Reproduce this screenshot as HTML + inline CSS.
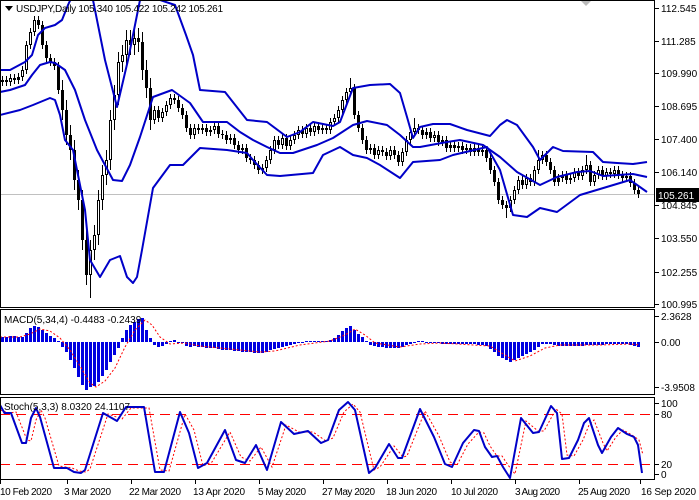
<!DOCTYPE html>
<html><head><meta charset="utf-8"><style>
html,body{margin:0;padding:0;background:#fff;}
svg{display:block;font-family:"Liberation Sans",sans-serif;font-size:10px;}
</style></head><body>
<svg width="699" height="500" xmlns="http://www.w3.org/2000/svg">
<defs>
<clipPath id="cm"><rect x="1" y="1" width="653" height="306"/></clipPath>
<clipPath id="cd"><rect x="1" y="310" width="653" height="84"/></clipPath>
<clipPath id="cs"><rect x="1" y="398" width="653" height="81"/></clipPath>
</defs>
<rect x="0" y="0" width="699" height="500" fill="#fff"/>
<g clip-path="url(#cm)">
<line x1="0" y1="194.5" x2="654" y2="194.5" stroke="#c0c0c0"/>
<path fill="none" stroke="#000" stroke-width="1" d="M2.5 76V86M6.5 76V86M10.5 74V86M14.5 74V84M18.5 73V84M22.5 66V81M26.5 41V74M30.5 28V49M34.5 16V36M38.5 16V29M42.5 21V49M46.5 41V62M50.5 54V66M54.5 58V70M58.5 62V94M62.5 80V120M66.5 100V145M70.5 125V160M74.5 140V190M78.5 170V210M82.5 190V250M86.5 230V285M90.5 240V298M94.5 225V260M98.5 190V245M102.5 165V210M106.5 150V185M110.5 110V170M114.5 85V130M118.5 52V105M122.5 45V72M126.5 30V65M130.5 30V55M134.5 28V55M138.5 28V52M142.5 32V80M146.5 60V98M150.5 78V130M154.5 106V124M158.5 106V122M162.5 108V122M166.5 101V116M170.5 94V109M174.5 94V104M178.5 96V112M182.5 104V119M186.5 111V132M190.5 124V139M194.5 124V139M198.5 124V134M202.5 124V134M206.5 124V136M210.5 126V136M214.5 122V134M218.5 122V138M222.5 130V139M226.5 131V144M230.5 134V144M234.5 134V149M238.5 141V154M242.5 144V154M246.5 144V162M250.5 154V164M254.5 156V169M258.5 161V174M262.5 164V174M266.5 156V172M270.5 146V164M274.5 136V154M278.5 136V149M282.5 134V149M286.5 134V150M290.5 136V150M294.5 131V144M298.5 126V139M302.5 126V138M306.5 124V138M310.5 124V136M314.5 122V136M318.5 122V134M322.5 124V134M326.5 124V134M330.5 118V134M334.5 114V126M338.5 106V122M342.5 96V114M346.5 88V104M350.5 78V96M354.5 84V119M358.5 111V132M362.5 124V144M366.5 136V154M370.5 144V154M374.5 144V159M378.5 146V159M382.5 146V156M386.5 148V160M390.5 146V160M394.5 146V159M398.5 151V166M402.5 148V166M406.5 136V156M410.5 128V144M414.5 118V136M418.5 124V134M422.5 126V139M426.5 128V139M430.5 128V142M434.5 131V142M438.5 131V146M442.5 136V146M446.5 136V152M450.5 141V152M454.5 141V152M458.5 142V152M462.5 142V154M466.5 144V154M470.5 144V156M474.5 144V156M478.5 144V156M482.5 146V156M486.5 146V162M490.5 154V174M494.5 166V186M498.5 178V204M502.5 196V209M506.5 201V218M510.5 196V212M514.5 186V204M518.5 176V194M522.5 176V189M526.5 174V189M530.5 174V186M534.5 166V186M538.5 150V174M542.5 151V164M546.5 151V166M550.5 158V174M554.5 166V186M558.5 174V186M562.5 171V182M566.5 171V184M570.5 174V184M574.5 168V182M578.5 168V180M582.5 166V180M586.5 155V174M590.5 161V186M594.5 171V186M598.5 166V179M602.5 166V180M606.5 168V180M610.5 168V178M614.5 166V178M618.5 166V179M622.5 171V182M626.5 172V182M630.5 172V187M634.5 179V194M638.5 186V198"/>
<path fill="none" stroke="#000" stroke-width="3" d="M2.5 82V80M6.5 80V82M10.5 82V78M14.5 78V80M18.5 80V77M22.5 77V70M26.5 70V45M30.5 45V32M34.5 32V20M38.5 20V25M42.5 25V45M46.5 45V58M50.5 58V62M54.5 62V66M58.5 66V90M62.5 90V110M66.5 110V135M70.5 135V150M74.5 150V180M78.5 180V200M82.5 200V240M86.5 240V275M90.5 275V250M94.5 250V235M98.5 235V200M102.5 200V175M106.5 175V160M110.5 160V120M114.5 120V95M118.5 95V62M122.5 62V55M126.5 55V40M130.5 40V45M134.5 45V38M138.5 38V42M142.5 42V70M146.5 70V88M150.5 88V120M154.5 120V110M158.5 110V118M162.5 118V112M166.5 112V105M170.5 105V98M174.5 98V100M178.5 100V108M182.5 108V115M186.5 115V128M190.5 128V135M194.5 135V128M198.5 128V130M202.5 130V128M206.5 128V132M210.5 132V130M214.5 130V126M218.5 126V134M222.5 134V135M226.5 135V140M230.5 140V138M234.5 138V145M238.5 145V150M242.5 150V148M246.5 148V158M250.5 158V160M254.5 160V165M258.5 165V170M262.5 170V168M266.5 168V160M270.5 160V150M274.5 150V140M278.5 140V145M282.5 145V138M286.5 138V146M290.5 146V140M294.5 140V135M298.5 135V130M302.5 130V134M306.5 134V128M310.5 128V132M314.5 132V126M318.5 126V130M322.5 130V128M326.5 128V130M330.5 130V122M334.5 122V118M338.5 118V110M342.5 110V100M346.5 100V92M350.5 92V88M354.5 88V115M358.5 115V128M362.5 128V140M366.5 140V150M370.5 150V148M374.5 148V155M378.5 155V150M382.5 150V152M386.5 152V156M390.5 156V150M394.5 150V155M398.5 155V162M402.5 162V152M406.5 152V140M410.5 140V132M414.5 132V128M418.5 128V130M422.5 130V135M426.5 135V132M430.5 132V138M434.5 138V135M438.5 135V142M442.5 142V140M446.5 140V148M450.5 148V145M454.5 145V148M458.5 148V146M462.5 146V150M466.5 150V148M470.5 148V152M474.5 152V148M478.5 148V152M482.5 152V150M486.5 150V158M490.5 158V170M494.5 170V182M498.5 182V200M502.5 200V205M506.5 205V208M510.5 208V200M514.5 200V190M518.5 190V180M522.5 180V185M526.5 185V178M530.5 178V182M534.5 182V170M538.5 170V160M542.5 160V155M546.5 155V162M550.5 162V170M554.5 170V182M558.5 182V178M562.5 178V175M566.5 175V180M570.5 180V178M574.5 178V172M578.5 172V176M582.5 176V170M586.5 170V165M590.5 165V182M594.5 182V175M598.5 175V170M602.5 170V176M606.5 176V172M610.5 172V174M614.5 174V170M618.5 170V175M622.5 175V178M626.5 178V176M630.5 176V183M634.5 183V190M638.5 190V194"/>
<path fill="none" stroke="#fff" stroke-width="1" d="M10.5 79V81M22.5 71V76M26.5 46V69M30.5 33V44M34.5 21V31M90.5 251V274M94.5 236V249M98.5 201V234M102.5 176V199M106.5 161V174M110.5 121V159M114.5 96V119M118.5 63V94M122.5 56V61M126.5 41V54M134.5 39V44M154.5 111V119M162.5 113V117M166.5 106V111M170.5 99V104M194.5 129V134M214.5 127V129M266.5 161V167M270.5 151V159M274.5 141V149M282.5 139V144M290.5 141V145M294.5 136V139M298.5 131V134M306.5 129V133M314.5 127V131M330.5 123V129M334.5 119V121M338.5 111V117M342.5 101V109M346.5 93V99M350.5 89V91M378.5 151V154M390.5 151V155M402.5 153V161M406.5 141V151M410.5 133V139M414.5 129V131M434.5 136V137M510.5 201V207M514.5 191V199M518.5 181V189M526.5 179V184M534.5 171V181M538.5 161V169M542.5 156V159M574.5 173V177M582.5 171V175M586.5 166V169M594.5 176V181M598.5 171V174M606.5 173V175M614.5 171V173"/>
<g fill="none" stroke="#0000c8" stroke-width="2" stroke-linejoin="round">
<polyline points="0,70 10,70 25,62 32,55 38,35 45,28 55,25 62,20 68,5 75,-10 88,-10 93,0 105,60 117,107 128,60 140,0 160,0 175,5 186,35 193,55 200,90 225,92 247,120 267,122 287,137 300,132 313,122 333,126 340,122 353,88 370,85 390,84 400,93 407,117 413,138 420,127 433,124 450,124 467,130 490,136 500,125 507,120 517,125 533,147 540,160 553,147 563,151 593,152 603,162 617,163 633,164 647,162"/>
<polyline points="0,92 10,90 25,85 32,75 40,65 50,62 55,63 65,70 75,90 85,120 97,150 113,180 122,181 130,165 140,137 153,97 172,90 190,103 203,122 227,122 240,132 253,140 267,147 280,153 293,153 317,145 333,138 353,125 367,121 387,125 400,135 413,147 420,147 447,142 460,140 483,145 500,157 517,172 540,185 557,177 577,172 590,171 603,176 633,174 647,177"/>
<polyline points="0,115 20,110 33,105 50,98 55,100 60,115 65,140 73,150 85,210 90,260 100,277 110,260 120,256 127,277 133,283 137,277 142,250 153,188 170,165 183,165 200,148 227,150 247,153 253,160 267,175 280,176 313,173 323,155 340,147 353,155 367,158 380,165 400,178 413,162 440,160 453,155 487,147 500,170 513,215 527,217 540,208 557,212 580,195 600,189 630,180 647,192"/>
</g>
</g>
<g clip-path="url(#cd)">
<path fill="none" stroke="#0000e0" stroke-width="3" d="M2.5 342V337M6.5 342V337M10.5 342V336M14.5 342V336M18.5 342V337M22.5 342V337M26.5 342V333M30.5 342V328M34.5 342V326M38.5 342V327M42.5 342V330M46.5 342V333M50.5 342V336M54.5 342V338M58.5 342V341M62.5 342V347M66.5 342V352M70.5 342V360M74.5 342V368M78.5 342V377M82.5 342V385M86.5 342V390M90.5 342V387M94.5 342V386M98.5 342V382M102.5 342V376M106.5 342V370M110.5 342V362M114.5 342V355M118.5 342V348M122.5 342V338M126.5 342V330M130.5 342V325M134.5 342V322M138.5 342V319M142.5 342V318M146.5 342V330M150.5 342V338M154.5 342V345M158.5 342V347M162.5 342V346M166.5 342V344M170.5 342V341M174.5 342V340M178.5 342V343M182.5 342V343M186.5 342V346M190.5 342V347M194.5 342V346M198.5 342V347M202.5 342V347M206.5 342V348M210.5 342V348M214.5 342V348M218.5 342V349M222.5 342V350M226.5 342V350M230.5 342V350M234.5 342V351M238.5 342V351M242.5 342V352M246.5 342V352M250.5 342V352M254.5 342V353M258.5 342V353M262.5 342V353M266.5 342V352M270.5 342V350M274.5 342V349M278.5 342V348M282.5 342V347M286.5 342V346M290.5 342V345M294.5 342V344M298.5 342V343M302.5 342V343M306.5 342V341M310.5 342V341M314.5 342V341M318.5 342V341M322.5 342V341M326.5 342V341M330.5 342V340M334.5 342V338M338.5 342V335M342.5 342V331M346.5 342V328M350.5 342V326M354.5 342V330M358.5 342V334M362.5 342V337M366.5 342V341M370.5 342V345M374.5 342V346M378.5 342V347M382.5 342V347M386.5 342V348M390.5 342V348M394.5 342V348M398.5 342V348M402.5 342V347M406.5 342V345M410.5 342V344M414.5 342V343M418.5 342V341M422.5 342V341M426.5 342V343M430.5 342V343M434.5 342V343M438.5 342V343M442.5 342V344M446.5 342V344M450.5 342V344M454.5 342V344M458.5 342V344M462.5 342V344M466.5 342V344M470.5 342V344M474.5 342V344M478.5 342V345M482.5 342V345M486.5 342V346M490.5 342V349M494.5 342V352M498.5 342V356M502.5 342V358M506.5 342V360M510.5 342V362M514.5 342V360M518.5 342V358M522.5 342V356M526.5 342V354M530.5 342V352M534.5 342V350M538.5 342V347M542.5 342V344M546.5 342V344M550.5 342V344M554.5 342V345M558.5 342V346M562.5 342V346M566.5 342V346M570.5 342V346M574.5 342V346M578.5 342V346M582.5 342V346M586.5 342V345M590.5 342V345M594.5 342V345M598.5 342V345M602.5 342V345M606.5 342V344M610.5 342V344M614.5 342V344M618.5 342V344M622.5 342V344M626.5 342V344M630.5 342V345M634.5 342V346M638.5 342V347"/>
<polyline fill="none" stroke="#f00" stroke-width="1" stroke-dasharray="2,2" points="0,337 20,337 30,334 40,329 50,331 60,338 70,350 80,366 90,383 96,387 105,381 115,368 125,347 135,330 145,320 152,325 160,337 170,344 185,343 200,346 230,349 260,352 275,351 300,345 330,341 345,335 355,329 365,335 375,343 400,347 420,344 440,343 490,346 505,355 515,361 530,356 545,348 560,345 600,345 630,344 640,345"/>
</g>
<g clip-path="url(#cs)">
<line x1="0" y1="414.5" x2="654" y2="414.5" stroke="#f00" stroke-dasharray="10,6"/>
<line x1="0" y1="464.5" x2="654" y2="464.5" stroke="#f00" stroke-dasharray="10,6"/>
<polyline fill="none" stroke="#f00" stroke-width="1" stroke-dasharray="2,2" points="0,410 9,413 16,412 27,440 31,441 36,420 41,410 45,418 59,466 72,468 79,471 86,472 90,469 108,414 122,419 131,408 149,408 160,470 169,471 185,414 194,430 203,466 212,462 230,432 241,457 250,461 261,447 272,467 286,425 299,432 313,432 326,441 333,438 344,412 353,404 360,412 374,470 380,467 394,446 403,457 407,456 425,411 439,436 450,462 457,465 468,444 479,432 484,433 490,446 497,456 502,456 508,465 515,474 526,421 538,431 544,431 556,409 562,414 567,455 574,456 583,440 589,425 594,420 603,443 607,451 616,437 623,430 632,435 639,440 643,455"/>
<polyline fill="none" stroke="#0000c8" stroke-width="2" stroke-linejoin="round" points="0,405 4.5,413 11,413 22,443 26,443 31,418 36,408 40,417 54,468 67,468 74,472 81,473 85,470 103,413 117,421 126,407 144,407 155,472 164,472 180,412 189,433 198,468 207,463 225,430 236,460 245,463 256,445 267,470 281,422 294,434 308,431 321,443 328,440 339,410 348,402 355,410 369,473 375,468 389,444 398,458 402,458 420,409 434,437 445,464 452,467 463,443 474,430 479,431 485,447 492,457 497,456 503,467 510,478 521,418 533,433 539,432 551,406 557,413 562,459 569,458 578,440 584,423 589,418 598,445 602,453 611,437 618,428 627,434 634,437 638,445 642,473"/>
</g>
<g fill="none" stroke="#000" stroke-width="1">
<rect x="0.5" y="0.5" width="654" height="307"/>
<rect x="0.5" y="309.5" width="654" height="85"/>
<rect x="0.5" y="397.5" width="654" height="82"/>
</g>
<g stroke="#000">
<line x1="655" y1="8.5" x2="659" y2="8.5"/><line x1="655" y1="41.5" x2="659" y2="41.5"/>
<line x1="655" y1="73.5" x2="659" y2="73.5"/><line x1="655" y1="106.5" x2="659" y2="106.5"/>
<line x1="655" y1="139.5" x2="659" y2="139.5"/><line x1="655" y1="172.5" x2="659" y2="172.5"/>
<line x1="655" y1="205.5" x2="659" y2="205.5"/><line x1="655" y1="238.5" x2="659" y2="238.5"/>
<line x1="655" y1="272.5" x2="659" y2="272.5"/><line x1="655" y1="304.5" x2="659" y2="304.5"/>
<line x1="655" y1="316.5" x2="659" y2="316.5"/><line x1="655" y1="342.5" x2="659" y2="342.5"/>
<line x1="655" y1="387.5" x2="659" y2="387.5"/>
<line x1="655" y1="403.5" x2="659" y2="403.5"/><line x1="655" y1="414.5" x2="659" y2="414.5"/>
<line x1="655" y1="464.5" x2="659" y2="464.5"/><line x1="655" y1="474.5" x2="659" y2="474.5"/>
</g>
<g fill="#000">
<text x="661" y="12">112.545</text><text x="661" y="45">111.285</text>
<text x="661" y="77">109.990</text><text x="661" y="110">108.695</text>
<text x="661" y="143">107.400</text><text x="661" y="176">106.140</text>
<text x="661" y="209">104.845</text><text x="661" y="242">103.550</text>
<text x="661" y="276">102.255</text><text x="661" y="308">100.995</text>
<text x="661" y="320">2.3628</text><text x="661" y="346">0.00</text>
<text x="661" y="391">-3.9508</text>
<text x="661" y="407">100</text><text x="661" y="418">80</text>
<text x="661" y="468">20</text><text x="661" y="478">0</text>
</g>
<rect x="656" y="188" width="43" height="14" fill="#000"/>
<text x="658" y="199" fill="#fff">105.261</text>
<polygon points="581,1 591,1 586,6" fill="#bbb"/>
<polygon points="5,6 13,6 9,11" fill="#000"/>
<text x="16" y="12" fill="#000" textLength="207">USDJPY,Daily  105.340 105.422 105.242 105.261</text>
<text x="4" y="323" fill="#000">MACD(5,34,4) -0.4483 -0.2439</text>
<text x="4" y="410" fill="#000">Stoch(5,3,3) 8.0320 24.1107</text>
<g fill="#000">
<text x="0" y="495" textLength="52">10 Feb 2020</text><text x="64" y="495" textLength="47">3 Mar 2020</text>
<text x="129" y="495" textLength="52">22 Mar 2020</text><text x="193" y="495" textLength="52">13 Apr 2020</text>
<text x="258" y="495" textLength="48">5 May 2020</text><text x="322" y="495" textLength="53">27 May 2020</text>
<text x="386" y="495" textLength="51">18 Jun 2020</text><text x="451" y="495" textLength="47">10 Jul 2020</text>
<text x="515" y="495" textLength="45">3 Aug 2020</text><text x="578" y="495" textLength="52">25 Aug 2020</text>
<text x="641" y="495" textLength="55">16 Sep 2020</text>
</g>
<g stroke="#000"><line x1="0.5" y1="480" x2="0.5" y2="484"/><line x1="67.5" y1="480" x2="67.5" y2="484"/><line x1="131.5" y1="480" x2="131.5" y2="484"/><line x1="195.5" y1="480" x2="195.5" y2="484"/><line x1="259.5" y1="480" x2="259.5" y2="484"/><line x1="323.5" y1="480" x2="323.5" y2="484"/><line x1="387.5" y1="480" x2="387.5" y2="484"/><line x1="451.5" y1="480" x2="451.5" y2="484"/><line x1="515.5" y1="480" x2="515.5" y2="484"/><line x1="579.5" y1="480" x2="579.5" y2="484"/><line x1="640.5" y1="480" x2="640.5" y2="484"/></g>
</svg>
</body></html>
